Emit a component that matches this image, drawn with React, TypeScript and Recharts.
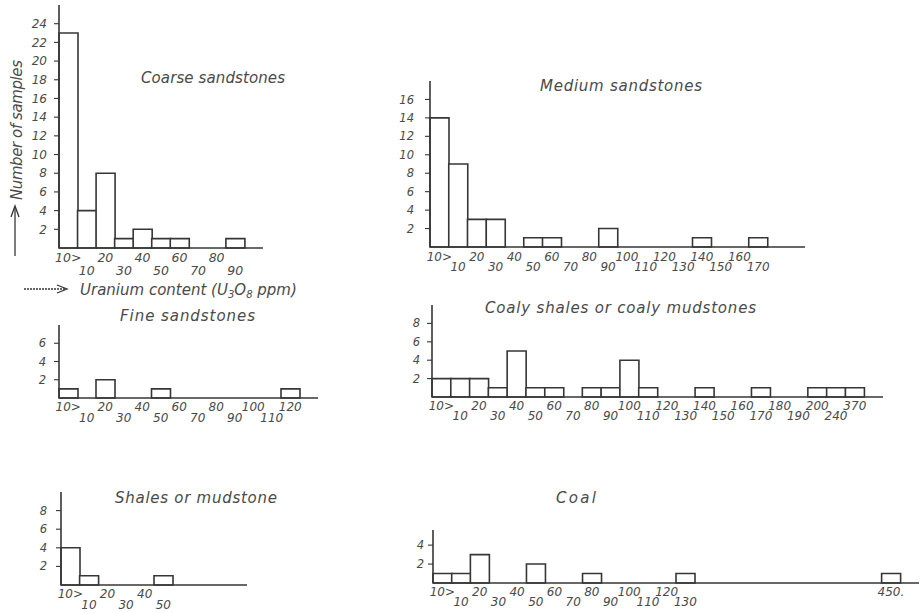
import { Bar, BarChart, XAxis, YAxis } from "recharts";

const INK = "#363636";
const TXT = "#4a4a4a";
const FONT = "'DejaVu Sans', sans-serif";

// Coarse sandstones
const coarseBins = ["10>", "10", "20", "30", "40", "50", "60", "70", "80", "90", ""];
const coarseCounts = [23, 4, 8, 1, 2, 1, 1, 0, 0, 1, 0];
const coarseTicks = [2, 4, 6, 8, 10, 12, 14, 16, 18, 20, 22, 24];

// Medium sandstones
const mediumBins = ["10>", "10", "20", "30", "40", "50", "60", "70", "80", "90", "100", "110", "120", "130", "140", "150", "160", "170", "", ""];
const mediumCounts = [14, 9, 3, 3, 0, 1, 1, 0, 0, 2, 0, 0, 0, 0, 1, 0, 0, 1, 0, 0];
const mediumTicks = [2, 4, 6, 8, 10, 12, 14, 16];

// Fine sandstones
const fineBins = ["10>", "10", "20", "30", "40", "50", "60", "70", "80", "90", "100", "110", "120", ""];
const fineCounts = [1, 0, 2, 0, 0, 1, 0, 0, 0, 0, 0, 0, 1, 0];
const fineTicks = [2, 4, 6];

// Coaly shales or coaly mudstones
const coalyBins = ["10>", "10", "20", "30", "40", "50", "60", "70", "80", "90", "100", "110", "120", "130", "140", "150", "160", "170", "180", "190", "200", "240", "370", ""];
const coalyCounts = [2, 2, 2, 1, 5, 1, 1, 0, 1, 1, 4, 1, 0, 0, 1, 0, 0, 1, 0, 0, 1, 1, 1, 0];
const coalyTicks = [2, 4, 6, 8];

// Shales or mudstone
const shaleBins = ["10>", "10", "20", "30", "40", "50", "", "", "", ""];
const shaleCounts = [4, 1, 0, 0, 0, 1, 0, 0, 0, 0];
const shaleTicks = [2, 4, 6, 8];

// Coal (axis broken before 450)
const coalBins = ["10>", "10", "20", "30", "40", "50", "60", "70", "80", "90", "100", "110", "120", "130", "", "", "", "", "", "", "", "", "", "", "450.", ""];
const coalCounts = [1, 1, 3, 0, 0, 2, 0, 0, 1, 0, 0, 0, 0, 1, 0, 0, 0, 0, 0, 0, 0, 0, 0, 0, 1, 0];
const coalTicks = [2, 4];

type HistProps = {
  bins: string[];
  counts: number[];
  ticks: number[];
  yMax: number;
  x0: number;
  x1: number;
  top: number;
  base: number;
  rows: [number, number];
  yGap: number;
  xFont?: number;
  yFont?: number;
};

function Histogram({ bins, counts, ticks, yMax, x0, x1, top, base, rows, yGap, xFont = 12, yFont = 11.5 }: HistProps) {
  const yw = 50;
  const xh = 40;
  const data = bins.map((b, i) => ({ bin: b, n: counts[i] }));
  const line = { stroke: INK, strokeWidth: 1.6 };
  return (
    <div style={{ position: "absolute", left: x0 - yw, top }}>
      <BarChart
        width={yw + x1 - x0}
        height={base - top + xh}
        data={data}
        margin={{ top: 0, right: 0, bottom: 0, left: 0 }}
        barCategoryGap={0}
        barGap={0}
      >
        <XAxis
          dataKey="bin"
          interval={0}
          height={xh}
          tickLine={false}
          tickSize={0}
          tickMargin={0}
          axisLine={line}
          tick={(p: any) => (
            <text
              x={p.x}
              y={p.y + (p.index % 2 ? rows[1] : rows[0])}
              dy="0.36em"
              textAnchor="middle"
              fontSize={xFont}
              fontStyle="italic"
              fontFamily={FONT}
              fill={TXT}
            >
              {p.payload.value}
            </text>
          )}
        />
        <YAxis
          type="number"
          domain={[0, yMax]}
          ticks={ticks}
          interval={0}
          width={yw}
          tickSize={5}
          tickMargin={yGap - 5}
          axisLine={line}
          tickLine={{ stroke: INK, strokeWidth: 1.1 }}
          tick={{ fontSize: yFont, fill: TXT, fontStyle: "italic", fontFamily: FONT }}
        />
        <Bar dataKey="n" fill="#fff" stroke={INK} strokeWidth={1.6} isAnimationActive={false} />
      </BarChart>
    </div>
  );
}

const title = { fontFamily: FONT, fontStyle: "italic" as const, fill: TXT, fontSize: 15 };

export default function App() {
  return (
    <div style={{ position: "absolute", left: 0, top: 0, width: 921, height: 613, background: "#fff", overflow: "hidden" }}>
      <Histogram bins={coarseBins} counts={coarseCounts} ticks={coarseTicks} yMax={26} x0={59} x1={263} top={5} base={248} rows={[9, 22]} yGap={12} xFont={12.5} yFont={12} />
      <Histogram bins={mediumBins} counts={mediumCounts} ticks={mediumTicks} yMax={18} x0={430} x1={805} top={81} base={247} rows={[10, 20]} yGap={16} />
      <Histogram bins={fineBins} counts={fineCounts} ticks={fineTicks} yMax={8} x0={59} x1={318} top={325} base={398} rows={[9, 20]} yGap={13} />
      <Histogram bins={coalyBins} counts={coalyCounts} ticks={coalyTicks} yMax={10} x0={432} x1={883} top={305} base={397} rows={[9, 19]} yGap={12} />
      <Histogram bins={shaleBins} counts={shaleCounts} ticks={shaleTicks} yMax={10} x0={61} x1={247} top={492} base={585} rows={[9, 20]} yGap={14} />
      <Histogram bins={coalBins} counts={coalCounts} ticks={coalTicks} yMax={5.6} x0={433} x1={919} top={530} base={583} rows={[9, 19]} yGap={9} />

      <svg width={921} height={613} style={{ position: "absolute", left: 0, top: 0, pointerEvents: "none" }}>
        <text x={141} y={83} textLength={144} lengthAdjust="spacing" {...title}>Coarse sandstones</text>
        <text x={540} y={91} textLength={162} lengthAdjust="spacing" {...title}>Medium sandstones</text>
        <text x={120} y={321} textLength={135} lengthAdjust="spacing" {...title}>Fine sandstones</text>
        <text x={485} y={313} textLength={271} lengthAdjust="spacing" {...title}>Coaly shales or coaly mudstones</text>
        <text x={115} y={503} textLength={162} lengthAdjust="spacing" {...title}>Shales or mudstone</text>
        <text x={556} y={503} textLength={40} lengthAdjust="spacing" {...title}>Coal</text>

        <text transform="translate(22,200) rotate(-90)" textLength={140} lengthAdjust="spacing" {...title}>Number of samples</text>
        <line x1={15} y1={256} x2={15} y2={207} stroke={INK} strokeWidth={1.3} />
        <path d="M11,217 L15,206 L19,217" fill="none" stroke={INK} strokeWidth={1.3} />

        <line x1={24} y1={289} x2={66} y2={289} stroke={INK} strokeWidth={1.3} strokeDasharray="2 1" />
        <path d="M57,285 L67,289 L57,293" fill="none" stroke={INK} strokeWidth={1.3} />
        <text x={80} y={295} {...title}>
          Uranium content (U<tspan fontSize={10} dy={3}>3</tspan>
          <tspan dy={-3}>O</tspan>
          <tspan fontSize={10} dy={3}>8</tspan>
          <tspan dy={-3}> ppm)</tspan>
        </text>
      </svg>
    </div>
  );
}
